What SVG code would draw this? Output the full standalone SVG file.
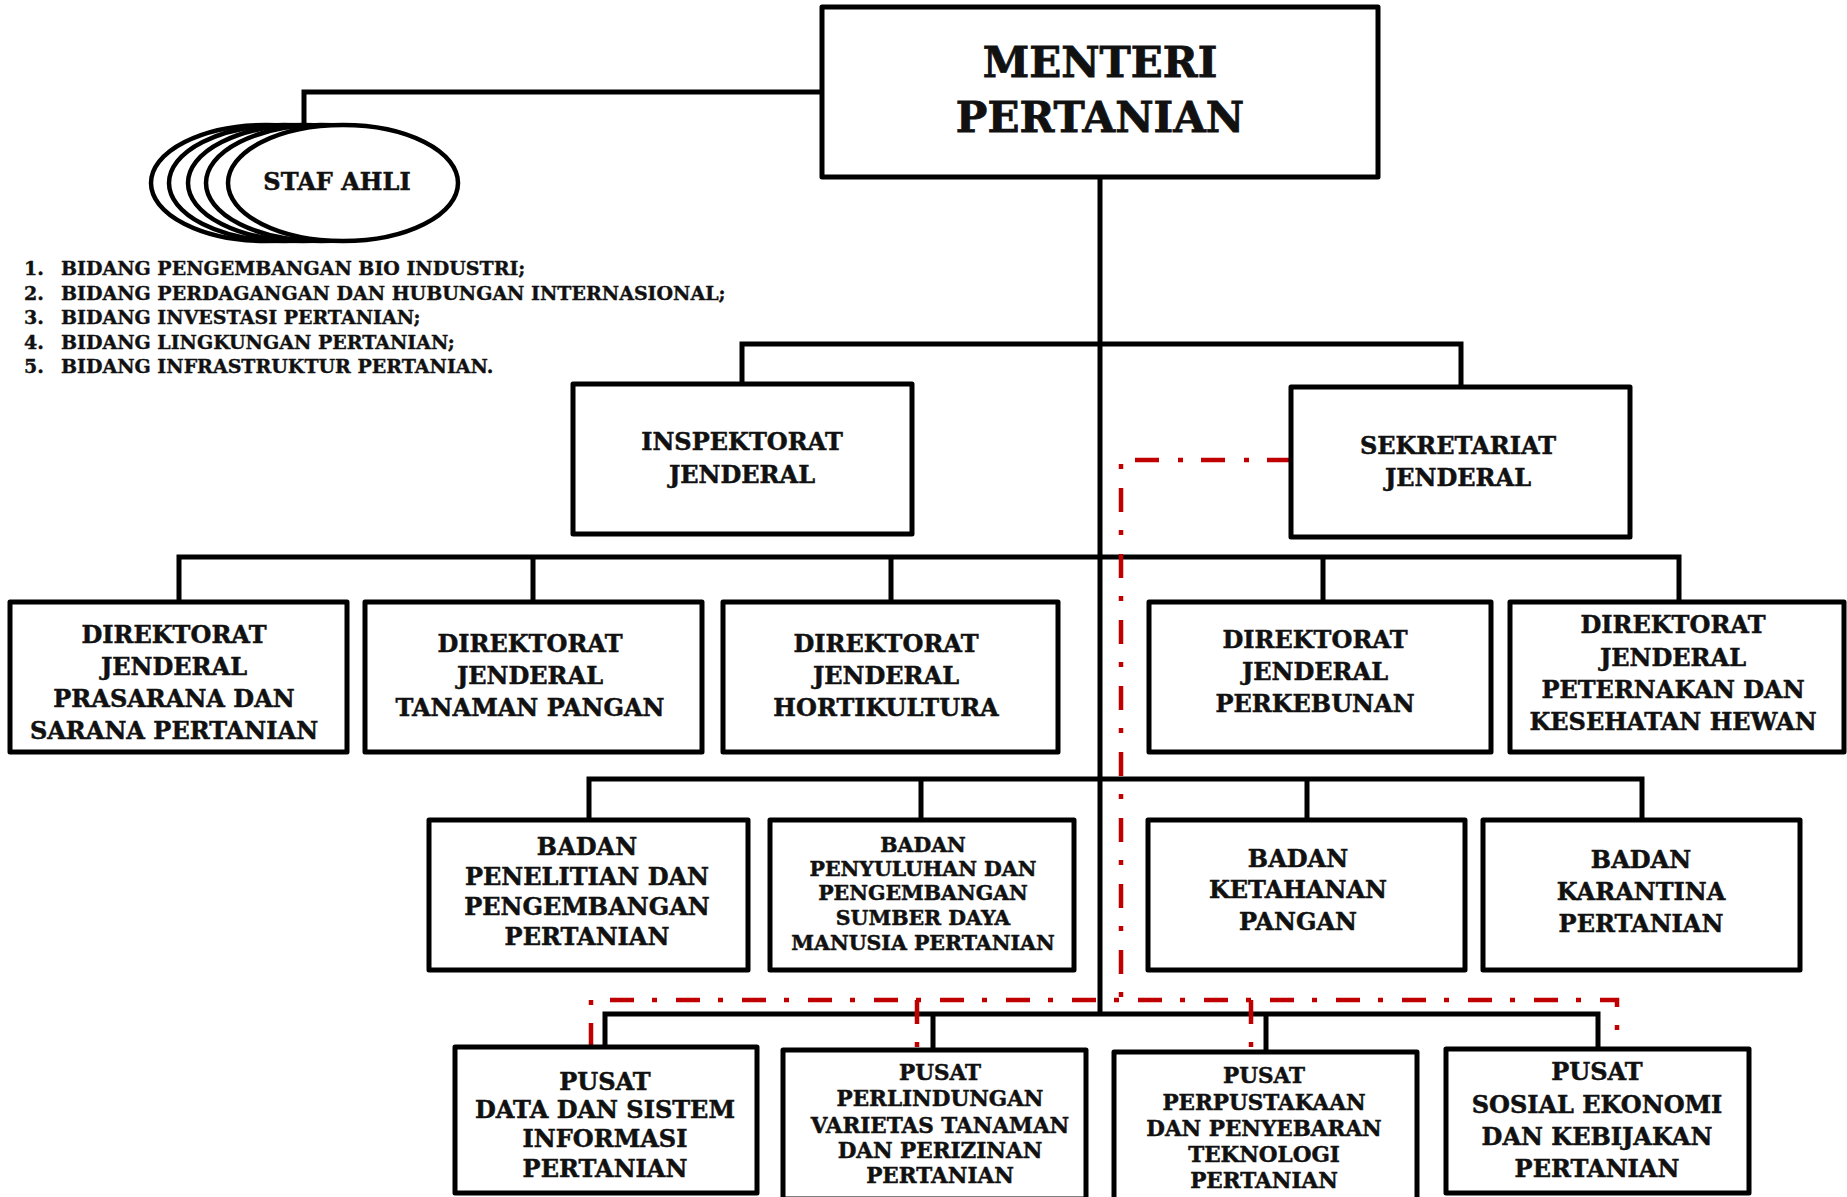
<svg xmlns="http://www.w3.org/2000/svg" width="1847" height="1197" viewBox="0 0 1847 1197">
<style>
.box{fill:#fff;stroke:#000;stroke-width:5;stroke-linejoin:round}
.ell{fill:#fff;stroke:#000;stroke-width:4.5}
.ln{fill:none;stroke:#000;stroke-width:5;stroke-linejoin:miter}
.red{fill:none;stroke:#C00000;stroke-width:4.5;stroke-dasharray:24 18 5 19}
text{font-family:"DejaVu Serif","Liberation Serif",serif;font-weight:bold;fill:#111;stroke:#111;stroke-width:0.5;text-anchor:middle}
.t{font-size:24px}
.s{font-size:20.5px}
.m{font-size:21.5px}
.lst{font-size:19px;text-anchor:start;stroke-width:0.4}
</style>
<rect width="1847" height="1197" fill="#fff"/>
<g id="connectors">
<path class="ln" d="M822,92 H304 V126"/>
<path class="ln" d="M1100,177 V1014"/>
<path class="ln" d="M742,384 V344 H1461 V387"/>
<path class="ln" d="M179,602 V557 H1679 V602 M533,557 V602 M891,557 V602 M1323,557 V602"/>
<path class="ln" d="M589,820 V779 H1642 V820 M921,779 V820 M1307,779 V820"/>
<path class="ln" d="M605,1047 V1014 H1598 V1049 M933,1014 V1050 M1266,1014 V1052"/>
<path class="red" d="M1291,460 H1121 V1000"/>
<path class="red" d="M591,1047 V1000 H1617 V1030"/>
<path class="red" d="M917,1000 V1047"/>
<path class="red" d="M1251,1000 V1047"/>
</g>
<g id="menteri">
<rect class="box" x="822" y="7" width="556" height="170"/>
<text x="1100" y="77" style="font-size:42px;stroke-width:0.8">MENTERI</text>
<text x="1100" y="132" style="font-size:42px;stroke-width:0.8">PERTANIAN</text>
</g>
<g id="staf-ahli">
<ellipse class="ell" cx="266" cy="183" rx="115" ry="58"/>
<ellipse class="ell" cx="284" cy="183" rx="115" ry="58"/>
<ellipse class="ell" cx="303" cy="183" rx="115" ry="58"/>
<ellipse class="ell" cx="321" cy="183" rx="115" ry="58"/>
<ellipse class="ell" cx="343" cy="183" rx="115" ry="58"/>
<text x="337" y="190" style="font-size:24px">STAF AHLI</text>
</g>
<g id="staf-list">
<text class="lst" x="24" y="275">1.</text><text class="lst" x="61" y="275">BIDANG PENGEMBANGAN BIO INDUSTRI;</text>
<text class="lst" x="24" y="299.5">2.</text><text class="lst" x="61" y="299.5">BIDANG PERDAGANGAN DAN HUBUNGAN INTERNASIONAL;</text>
<text class="lst" x="24" y="324">3.</text><text class="lst" x="61" y="324">BIDANG INVESTASI PERTANIAN;</text>
<text class="lst" x="24" y="348.5">4.</text><text class="lst" x="61" y="348.5">BIDANG LINGKUNGAN PERTANIAN;</text>
<text class="lst" x="24" y="373">5.</text><text class="lst" x="61" y="373">BIDANG INFRASTRUKTUR PERTANIAN.</text>
</g>
<g id="inspektorat">
<rect class="box" x="573" y="384" width="339" height="150"/>
<text class="t" x="742" y="450">INSPEKTORAT</text>
<text class="t" x="742" y="483">JENDERAL</text>
</g>
<g id="sekretariat">
<rect class="box" x="1291" y="387" width="339" height="150"/>
<text class="t" x="1458" y="454">SEKRETARIAT</text>
<text class="t" x="1458" y="486">JENDERAL</text>
</g>
<g id="dj-psp">
<rect class="box" x="10" y="602" width="337" height="150"/>
<text class="t" x="174" y="643">DIREKTORAT</text>
<text class="t" x="174" y="675">JENDERAL</text>
<text class="t" x="174" y="707">PRASARANA DAN</text>
<text class="t" x="174" y="739">SARANA PERTANIAN</text>
</g>
<g id="dj-tp">
<rect class="box" x="365" y="602" width="337" height="150"/>
<text class="t" x="530" y="652">DIREKTORAT</text>
<text class="t" x="530" y="684">JENDERAL</text>
<text class="t" x="530" y="716">TANAMAN PANGAN</text>
</g>
<g id="dj-horti">
<rect class="box" x="723" y="602" width="335" height="150"/>
<text class="t" x="886" y="652">DIREKTORAT</text>
<text class="t" x="886" y="684">JENDERAL</text>
<text class="t" x="886" y="716">HORTIKULTURA</text>
</g>
<g id="dj-bun">
<rect class="box" x="1149" y="602" width="342" height="150"/>
<text class="t" x="1315" y="648">DIREKTORAT</text>
<text class="t" x="1315" y="680">JENDERAL</text>
<text class="t" x="1315" y="712">PERKEBUNAN</text>
</g>
<g id="dj-pkh">
<rect class="box" x="1510" y="602" width="334" height="150"/>
<text class="t" x="1673" y="633">DIREKTORAT</text>
<text class="t" x="1673" y="666">JENDERAL</text>
<text class="t" x="1673" y="698">PETERNAKAN DAN</text>
<text class="t" x="1673" y="730">KESEHATAN HEWAN</text>
</g>
<g id="badan-litbang">
<rect class="box" x="429" y="820" width="319" height="150"/>
<text class="t" x="587" y="855">BADAN</text>
<text class="t" x="587" y="885">PENELITIAN DAN</text>
<text class="t" x="587" y="915">PENGEMBANGAN</text>
<text class="t" x="587" y="945">PERTANIAN</text>
</g>
<g id="badan-sdm">
<rect class="box" x="770" y="820" width="304" height="150"/>
<text class="s" x="923" y="852">BADAN</text>
<text class="s" x="923" y="876">PENYULUHAN DAN</text>
<text class="s" x="923" y="900">PENGEMBANGAN</text>
<text class="s" x="923" y="925">SUMBER DAYA</text>
<text class="s" x="923" y="950">MANUSIA PERTANIAN</text>
</g>
<g id="badan-ketahanan">
<rect class="box" x="1148" y="820" width="317" height="150"/>
<text class="t" x="1298" y="867">BADAN</text>
<text class="t" x="1298" y="898">KETAHANAN</text>
<text class="t" x="1298" y="930">PANGAN</text>
</g>
<g id="badan-karantina">
<rect class="box" x="1483" y="820" width="317" height="150"/>
<text class="t" x="1641" y="868">BADAN</text>
<text class="t" x="1641" y="900">KARANTINA</text>
<text class="t" x="1641" y="932">PERTANIAN</text>
</g>
<g id="pusat-data">
<rect class="box" x="455" y="1047" width="302" height="146"/>
<text class="t" x="605" y="1090">PUSAT</text>
<text class="t" x="605" y="1118">DATA DAN SISTEM</text>
<text class="t" x="605" y="1147">INFORMASI</text>
<text class="t" x="605" y="1177">PERTANIAN</text>
</g>
<g id="pusat-pvt">
<rect class="box" x="783" y="1050" width="303" height="149"/>
<text class="m" x="940" y="1080">PUSAT</text>
<text class="m" x="940" y="1106">PERLINDUNGAN</text>
<text class="m" x="940" y="1133">VARIETAS TANAMAN</text>
<text class="m" x="940" y="1158">DAN PERIZINAN</text>
<text class="m" x="940" y="1183">PERTANIAN</text>
</g>
<g id="pusat-pustaka">
<rect class="box" x="1114" y="1052" width="303" height="150"/>
<text class="m" x="1264" y="1083">PUSAT</text>
<text class="m" x="1264" y="1110">PERPUSTAKAAN</text>
<text class="m" x="1264" y="1136">DAN PENYEBARAN</text>
<text class="m" x="1264" y="1162">TEKNOLOGI</text>
<text class="m" x="1264" y="1188">PERTANIAN</text>
</g>
<g id="pusat-sosek">
<rect class="box" x="1446" y="1049" width="303" height="144"/>
<text class="t" x="1597" y="1080">PUSAT</text>
<text class="t" x="1597" y="1113">SOSIAL EKONOMI</text>
<text class="t" x="1597" y="1145">DAN KEBIJAKAN</text>
<text class="t" x="1597" y="1177">PERTANIAN</text>
</g>
</svg>
